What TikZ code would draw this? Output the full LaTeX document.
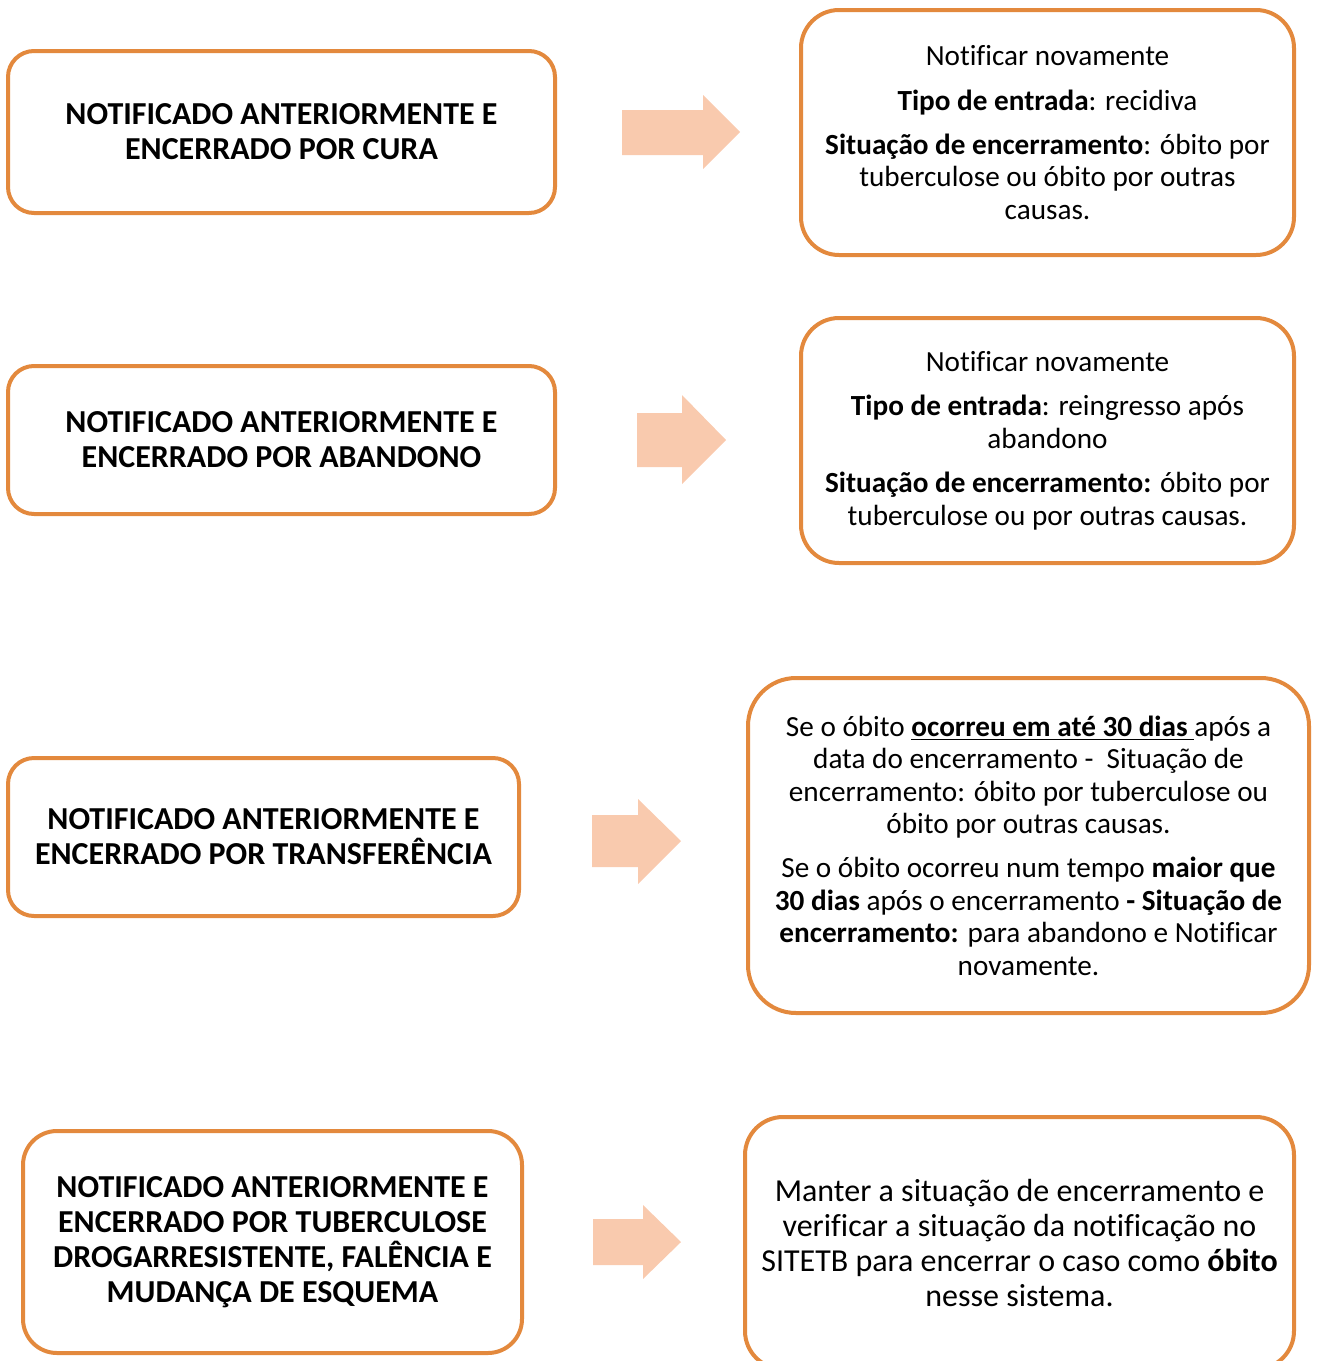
\documentclass[tikz,border=0pt]{standalone}
\usepackage{fontspec}
\setmainfont[Ligatures=NoCommon]{Carlito}
\definecolor{boxorange}{HTML}{E3893D}
\definecolor{arrowpeach}{HTML}{F9CAAE}
\tikzset{
  casebox/.style={draw=boxorange, line width=2pt, fill=white, align=center,
    inner sep=0pt, rounded corners=#1},
  casebox/.default=13pt,
  leftcase/.style={casebox=#1, font=\fontsize{16pt}{17.5pt}\selectfont\bfseries},
  leftcase/.default=13pt,
  rightcase/.style={casebox=#1, font=\fontsize{14.6pt}{16.2pt}\selectfont},
  rightcase/.default=19pt,
  bigarrow/.style={fill=arrowpeach}
}
\begin{document}
\begin{tikzpicture}[x=0.5pt,y=-0.5pt]
  \useasboundingbox (0,0) rectangle (1317,1361);
  %% cura
  \node[leftcase, minimum width=273.5pt, minimum height=81pt] (cura) at (281.5,132)
    {NOTIFICADO ANTERIORMENTE E\\ENCERRADO POR CURA};
  \node[rightcase, minimum width=246.5pt, minimum height=122.5pt] (curaacao) at (1047.5,132.5)
    {Notificar novamente\\[6pt]
     \textbf{Tipo de entrada}: recidiva\\[6pt]
     \textbf{Situação de encerramento}: óbito por\\
     tuberculose ou óbito por outras\\
     causas.};
  \fill[bigarrow] (622,110) -- (703,110) -- (703,95) -- (740,132) -- (703,169)
    -- (703,155) -- (622,155) -- cycle;
  %% abandono
  \node[leftcase, minimum width=273.5pt, minimum height=74pt] (abandono) at (281.5,440)
    {NOTIFICADO ANTERIORMENTE E\\ENCERRADO POR ABANDONO};
  \node[rightcase, minimum width=246.5pt, minimum height=122.5pt] (abandonoacao) at (1047.5,440.5)
    {Notificar novamente\\[6pt]
     \textbf{Tipo de entrada}: reingresso após\\
     abandono\\[6pt]
     \textbf{Situação de encerramento:} óbito por\\
     tuberculose ou por outras causas.};
  \fill[bigarrow] (637,413) -- (682,413) -- (682,395) -- (726,440) -- (682,484)
    -- (682,467) -- (637,467) -- cycle;
  %% transferencia
  \node[leftcase, minimum width=255.5pt, minimum height=79pt] (transf) at (263.5,837)
    {NOTIFICADO ANTERIORMENTE E\\ENCERRADO POR TRANSFERÊNCIA};
  \node[rightcase=24pt, minimum width=280.5pt, minimum height=167.5pt] (transfacao) at (1028.5,845.5)
    {Se o óbito \textbf{\underline{ocorreu em até 30 dias }}após a\\
     data do encerramento -\ \ Situação de\\
     encerramento: óbito por tuberculose ou\\
     óbito por outras causas.\\[6pt]
     Se o óbito ocorreu num tempo \textbf{maior que}\\
     \textbf{30 dias} após o encerramento \textbf{- Situação de}\\
     \textbf{encerramento:} para abandono e Notificar\\
     novamente.};
  \fill[bigarrow] (592,815) -- (638,815) -- (638,799) -- (681,841) -- (638,884)
    -- (638,867) -- (592,867) -- cycle;
  %% tuberculose DR
  \node[leftcase=17pt, minimum width=249.5pt, minimum height=111pt] (tbdr) at (272.5,1242)
    {NOTIFICADO ANTERIORMENTE E\\ENCERRADO POR TUBERCULOSE\\
     DROGARRESISTENTE, FALÊNCIA E\\MUDANÇA DE ESQUEMA};
  \node[rightcase, font=\fontsize{16pt}{17.5pt}\selectfont,
    minimum width=274.5pt, minimum height=126pt] (tbdracao) at (1019.5,1243)
    {Manter a situação de encerramento e\\
     verificar a situação da notificação no\\
     SITETB para encerrar o caso como \textbf{óbito}\\
     nesse sistema.};
  \fill[bigarrow] (593,1219) -- (643,1219) -- (643,1205) -- (681,1242) -- (643,1279)
    -- (643,1265) -- (593,1265) -- cycle;
\end{tikzpicture}
\end{document}
